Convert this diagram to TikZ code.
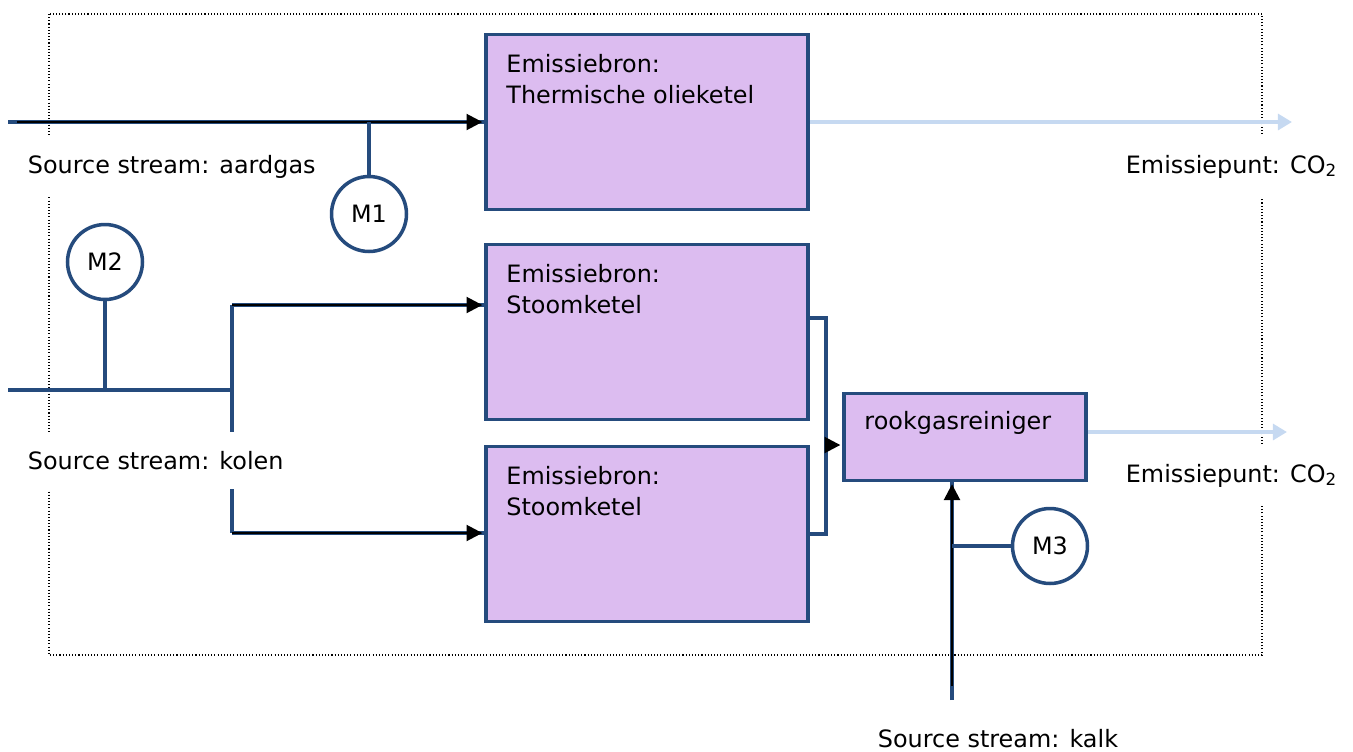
\documentclass[tikz,border=0pt]{standalone}
\usepackage{fontspec}
\setmainfont{DejaVu Sans}
\usetikzlibrary{arrows.meta}
\definecolor{boxblue}{RGB}{37,75,125}
\definecolor{boxfill}{RGB}{220,188,240}
\definecolor{emisblue}{RGB}{198,217,241}
\begin{document}
\begin{tikzpicture}[x=0.02cm, y=-0.02cm,
        every node/.style={font=\fontsize{13.6}{18}\selectfont},
        bron/.style={rectangle, draw=boxblue, line width=2.2pt, fill=boxfill, minimum width=6.44cm, minimum height=3.5cm, inner sep=0pt},
        reiniger/.style={bron, minimum width=4.84cm, minimum height=1.74cm},
        brontext/.style={anchor=north west, align=left, inner sep=0pt},
        meter/.style={circle, draw=boxblue, line width=2pt, fill=white, minimum size=1.5cm, inner sep=0pt},
        stream/.style={fill=white, inner xsep=2pt, inner ysep=11pt},
        pipe/.style={draw=boxblue, line width=2pt},
        feed/.style={draw=black, line width=1.5pt, -{Triangle[length=9pt,width=9pt]}, shorten >=1pt},
        emis/.style={draw=emisblue, line width=2.4pt, -{Triangle[length=8pt,width=9pt]}},
        boundary/.style={draw=black, line width=0.6pt, dash pattern=on 0.6pt off 1.2pt}]
        \useasboundingbox (0,0) rectangle (1353,751);

        % installatiegrens
        \draw[boundary] (49,14) rectangle (1262,655);

        \node[bron] (b1) at (647,122) {};
        \node[bron] (b2) at (647,332) {};
        \node[bron] (b3) at (647,534) {};
        \node[reiniger] (r) at (965,437) {};

        \node[meter] (m1) at (369,214) {M1};
        \node[meter] (m2) at (105,262) {M2};
        \node[meter] (m3) at (1050,546) {M3};

        \coordinate (aIn) at (8,122);
        \coordinate (kIn) at (8,390);
        \coordinate (kSplit) at (232,390);
        \coordinate (k2) at (232,305);
        \coordinate (k3) at (232,533);
        \coordinate (mix) at (826,445);
        \coordinate (kalkIn) at (952,700);
        \coordinate (e1) at (1292,122);
        \coordinate (e2) at (1287,432);

        % aardgas
        \draw[pipe] (aIn) -- (b1.west);
        \draw[feed] ([xshift=0.18cm]aIn) -- (b1.west);
        \draw[pipe] (m1.north) -- (m1.north |- aIn);

        % kolen
        \draw[pipe] (kIn) -- (kSplit);
        \draw[pipe] (k2) -- (k3);
        \draw[pipe] (m2.south) -- (m2.south |- kIn);
        \draw[pipe] (k2) -- (k2 -| b2.west);
        \draw[feed] (k2) -- (k2 -| b2.west);
        \draw[pipe] (k3) -- (k3 -| b3.west);
        \draw[feed] (k3) -- (k3 -| b3.west);

        % rookgas
        \draw[pipe] ([yshift=0.28cm]b2.east) -| (mix) |- (b3.east);
        \draw[feed] (mix) -- (mix -| r.west);

        % kalk
        \draw[pipe] (kalkIn) -- (kalkIn |- r.south);
        \draw[feed] ([yshift=0.28cm]kalkIn) -- (kalkIn |- r.south);
        \draw[pipe] (m3.west) -- (m3.west -| kalkIn);

        % emissies
        \draw[emis] (b1.east) -- (e1);
        \draw[emis] (e2 -| r.east) -- (e2);

        \node[brontext] (b1t) at ([shift={(22,21)}]b1.north west) {Emissiebron:\\Thermische olieketel};
        \node[brontext] (b2t) at ([shift={(22,21)}]b2.north west) {Emissiebron:\\Stoomketel};
        \node[brontext] (b3t) at ([shift={(22,21)}]b3.north west) {Emissiebron:\\Stoomketel};
        \node[anchor=west, inner sep=0pt] (rt) at ([shift={(22,31)}]r.north west) {rookgasreiniger};

        \node[stream, anchor=base west] (sa) at (24,173) {Source stream: aardgas};
        \node[stream, anchor=base west] (sk) at (24,469) {Source stream: kolen};
        \node[stream, anchor=base] (sc) at (998,747) {Source stream: kalk};
        \node[stream, anchor=base west] (ep1) at (1122,173) {Emissiepunt: CO\textsubscript{2}};
        \node[stream, anchor=base west] (ep2) at (1122,482) {Emissiepunt: CO\textsubscript{2}};

    \end{tikzpicture}
\end{document}
